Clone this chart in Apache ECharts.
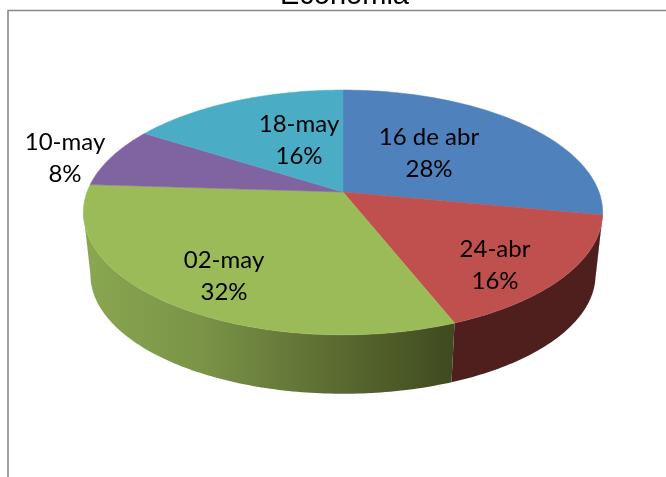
<!DOCTYPE html>
<html>
<head>
<meta charset="utf-8">
<style>html,body{margin:0;padding:0;background:#fff;overflow:hidden}#c{width:666px;height:477px}</style>
<script src="https://cdn.jsdelivr.net/npm/echarts@6/dist/echarts.min.js"></script>
</head>
<body>
<div id="c"></div>
<script>
// Data
var titleText = 'Economia';
var categories = ['16 de abr', '24-abr', '02-may', '10-may', '18-may'];
var values = [28, 16, 32, 8, 16];

// Styles and layout
var topColors = ['#4f81bd', '#c0504d', '#9bbb59', '#8064a2', '#4bacc6'];
var sideFill = [
  '#2c4768',
  '#4f1f1e',
  { type: 'linear', x: 85, y: 0, x2: 454, y2: 0, global: true, colorStops: [
    { offset: 0, color: '#8aa750' },
    { offset: 0.32, color: '#7a9347' },
    { offset: 0.69, color: '#5a6a30' },
    { offset: 1, color: '#3f4a20' }
  ] },
  '#46375a',
  '#296070'
];
var labelCenters = [[429, 153], [495, 265], [224, 276], [65, 158], [299, 140]];
var apex = [343, 192];      // screen position of the pie's centre (polar centre)
var polarRadius = 100;      // polar pixels used as the unit disc
var persp = 0.167;          // perspective strength of the disc
var topDisc = { a: 256, b: 119, y0: 192 };
var baseDisc = { a: 249, b: 115.6, y0: 255 };
var total = values.reduce(function (s, v) { return s + v; }, 0);
var visibleFrom = total * (Math.PI / 2 + Math.asin(persp)) / (2 * Math.PI);
var visibleTo = total - visibleFrom;
var step = 0.25;

function project(api, disc, pct) {
  var pt = api.coord([1, pct]);
  var u = (pt[0] - apex[0]) / polarRadius;
  var v = (apex[1] - pt[1]) / polarRadius;
  var w = 1 + persp * v;
  return [apex[0] + disc.a * u / w, disc.y0 - disc.b * v / w];
}
function rim(api, disc, from, to) {
  var out = [];
  var n = Math.max(1, Math.ceil(Math.abs(to - from) / step));
  for (var i = 0; i <= n; i++) out.push(project(api, disc, from + (to - from) * i / n));
  return out;
}
function startOf(i) {
  var s = 0;
  for (var k = 0; k < i; k++) s += values[k];
  return s;
}

function renderSide(params, api) {
  var i = params.dataIndex;
  var from = Math.max(startOf(i), visibleFrom);
  var to = Math.min(startOf(i) + values[i], visibleTo);
  if (to <= from) return { type: 'group', children: [] };
  var pts = rim(api, topDisc, from, to).concat(rim(api, baseDisc, to, from));
  return {
    type: 'polygon',
    shape: { points: pts },
    style: { fill: sideFill[i], stroke: 'none' }
  };
}
function renderTop(params, api) {
  var i = params.dataIndex;
  var from = startOf(i);
  var pts = [apex.slice()].concat(rim(api, topDisc, from, from + values[i]));
  return {
    type: 'polygon',
    shape: { points: pts },
    style: { fill: topColors[i], stroke: topColors[i], lineWidth: 0.5 }
  };
}
function renderLabel(params, api) {
  var i = params.dataIndex;
  return {
    type: 'text',
    style: {
      text: categories[i] + '\n' + Math.round(values[i] / total * 100) + '%',
      x: labelCenters[i][0],
      y: labelCenters[i][1],
      align: 'center',
      verticalAlign: 'middle',
      fill: '#000',
      font: '24px Lato',
      lineHeight: 32
    }
  };
}

var chart = echarts.init(document.getElementById('c'), null, { renderer: 'canvas' });
var rows = values.map(function (v, i) { return [1, v, categories[i]]; });
function layer(fn, z) {
  return {
    type: 'custom', coordinateSystem: 'polar', renderItem: fn, data: rows,
    encode: { radius: 0, angle: 1 }, z: z, silent: true, animation: false, clip: false
  };
}
chart.setOption({
  animation: false,
  backgroundColor: '#ffffff',
  title: {
    text: titleText,
    left: 339.5,
    top: -24,
    textAlign: 'center',
    textStyle: { fontFamily: 'Liberation Sans', fontSize: 29, fontWeight: 'normal', color: '#000' }
  },
  polar: { center: apex, radius: polarRadius },
  angleAxis: { type: 'value', min: 0, max: total, startAngle: 90, clockwise: true, show: false },
  radiusAxis: { type: 'value', min: 0, max: 1, show: false },
  tooltip: { show: false },
  graphic: [{
    type: 'rect',
    z: -1,
    shape: { x: 8, y: 10.5, width: 900, height: 700 },
    style: { fill: 'none', stroke: '#888888', lineWidth: 1.6 }
  }],
  series: [layer(renderSide, 1), layer(renderTop, 2), layer(renderLabel, 3)]
});
</script>
</body>
</html>
